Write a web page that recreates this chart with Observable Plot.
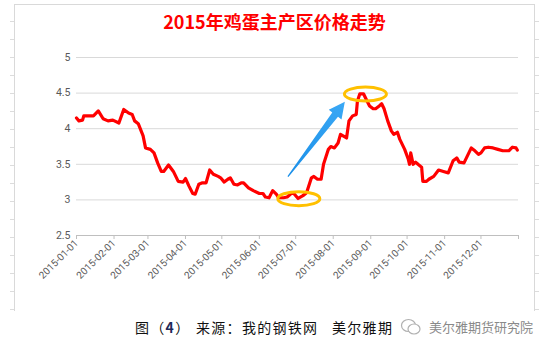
<!DOCTYPE html>
<html><head><meta charset="utf-8">
<script src="https://cdn.jsdelivr.net/npm/d3@7"></script>
<script src="https://cdn.jsdelivr.net/npm/@observablehq/plot@0.6"></script>
<style>
body{margin:0;background:#fff;}
#wrap{position:relative;width:549px;height:354px;overflow:hidden;font-family:"Noto Sans CJK SC",sans-serif;background:#fff;}
#frame{position:absolute;left:14px;top:4px;width:519px;height:306px;border:1px solid #d9d9d9;border-bottom:none;}
.ticksL{position:absolute;left:10px;top:4px;width:4px;height:306px;background:repeating-linear-gradient(to bottom,transparent 0 17px,#dcdcdc 17px 18px);}
.ticksR{position:absolute;left:535px;top:4px;width:4px;height:306px;background:repeating-linear-gradient(to bottom,transparent 0 17px,#dcdcdc 17px 18px);}
#title{position:absolute;left:14px;width:521px;top:9px;text-align:center;color:#ff0000;font-weight:bold;font-size:18px;line-height:24px;white-space:nowrap;}
#chart{position:absolute;left:0;top:40px;}
.cap{position:absolute;top:317px;font-size:14px;line-height:20px;color:#111;white-space:nowrap;letter-spacing:1.3px;}
#wm{position:absolute;left:400px;top:318px;font-size:13px;line-height:18px;color:#8a8a8a;white-space:nowrap;display:flex;align-items:center;}
#wm svg{margin-right:7px;}
</style>
</head><body>
<div id="wrap">
  <div id="frame"></div>
  <div class="ticksL"></div>
  <div class="ticksR"></div>
  <div id="title">2015年鸡蛋主产区价格走势</div>
  <div id="chart"></div>
  <div class="cap" style="left:135px">图（<b style="color:#1f2a5a">4</b>）</div>
  <div class="cap" style="left:196px">来源：我的钢铁网</div>
  <div class="cap" style="left:332px">美尔雅期</div>
  <div id="wm"><svg width="22" height="18" viewBox="0 0 22 18"><ellipse cx="8.5" cy="7.5" rx="7" ry="6" fill="#fff" stroke="#b0b0b0" stroke-width="1.2"/><ellipse cx="14" cy="11" rx="6" ry="5" fill="#fff" stroke="#b0b0b0" stroke-width="1.2"/></svg>美尔雅期货研究院</div>
</div>
<script>
const dates = ["2015-01-01","2015-01-03","2015-01-06","2015-01-07","2015-01-15","2015-01-19","2015-01-23","2015-01-27","2015-01-31",
"2015-02-05","2015-02-09","2015-02-13","2015-02-16","2015-02-18","2015-02-21","2015-02-25","2015-02-27",
"2015-03-03","2015-03-06","2015-03-09","2015-03-12","2015-03-14","2015-03-18","2015-03-22","2015-03-26","2015-03-30",
"2015-04-01","2015-04-04","2015-04-07","2015-04-09","2015-04-12","2015-04-15","2015-04-18","2015-04-21","2015-04-24","2015-04-28","2015-04-30",
"2015-05-03","2015-05-06","2015-05-08","2015-05-11","2015-05-14","2015-05-17","2015-05-19","2015-05-23","2015-05-27",
"2015-06-01","2015-06-04","2015-06-06","2015-06-09","2015-06-12","2015-06-15","2015-06-17","2015-06-21","2015-06-24","2015-06-28","2015-06-30",
"2015-07-03","2015-07-07","2015-07-10","2015-07-14","2015-07-16","2015-07-19","2015-07-22","2015-07-24","2015-07-28","2015-07-30",
"2015-08-02","2015-08-05","2015-08-07","2015-08-12","2015-08-14","2015-08-17","2015-08-20","2015-08-21","2015-08-23","2015-08-26","2015-08-28","2015-08-31",
"2015-09-03","2015-09-05","2015-09-08","2015-09-10","2015-09-12","2015-09-15","2015-09-18","2015-09-20","2015-09-23","2015-09-25","2015-09-29",
"2015-10-02","2015-10-03","2015-10-04","2015-10-06","2015-10-08","2015-10-10","2015-10-13","2015-10-14","2015-10-17","2015-10-19","2015-10-23","2015-10-27","2015-10-31",
"2015-11-04","2015-11-08","2015-11-11","2015-11-13","2015-11-17","2015-11-21","2015-11-23","2015-11-26","2015-11-29",
"2015-12-01","2015-12-04","2015-12-07","2015-12-11","2015-12-15","2015-12-19","2015-12-24","2015-12-27","2015-12-30","2015-12-31"];
const prices = [4.15,4.11,4.12,4.18,4.18,4.25,4.14,4.11,4.12,
4.08,4.27,4.22,4.20,4.11,4.07,3.90,3.73,
3.71,3.66,3.52,3.40,3.40,3.49,3.40,3.26,3.25,
3.30,3.19,3.09,3.08,3.22,3.24,3.24,3.42,3.36,3.33,3.31,
3.25,3.29,3.31,3.22,3.21,3.24,3.24,3.17,3.13,
3.09,3.09,3.04,3.03,3.13,3.08,3.03,3.03,3.04,3.10,3.08,
3.02,3.06,3.10,3.31,3.33,3.29,3.29,3.50,3.71,3.75,
3.73,3.80,3.92,3.87,4.11,4.18,4.20,4.39,4.49,4.49,4.42,4.32,
4.28,4.28,4.32,4.35,4.28,4.11,3.97,3.92,3.95,3.85,3.71,
3.57,3.50,3.66,3.50,3.53,3.50,3.46,3.26,3.26,3.29,3.33,3.42,3.40,
3.38,3.55,3.59,3.53,3.52,3.66,3.73,3.69,3.64,
3.66,3.73,3.74,3.73,3.71,3.69,3.69,3.74,3.73,3.70];
const monthTicks = ["2015-01-01","2015-02-01","2015-03-01","2015-04-01","2015-05-01","2015-06-01","2015-07-01","2015-08-01","2015-09-01","2015-10-01","2015-11-01","2015-12-01","2016-01-01"];
const yTicks = [2.5,3,3.5,4,4.5,5];
// annotation anchors (data space)
const troughMark = {date:"2015-07-04", value:3.01};
const peakMark = {date:"2015-08-28", value:4.48};
const arrowFrom = {date:"2015-06-25", value:3.32};
const arrowTo = {date:"2015-08-11", value:4.37};

const parse = d3.utcParse("%Y-%m-%d");
const data = dates.map((d,i)=>({date:parse(d), price:prices[i]}));
const xt = monthTicks.map(parse);
const fmt = d3.utcFormat("%Y-%m-%d");

const plot = Plot.plot({
  width:549, height:260,
  marginLeft:76, marginRight:31, marginTop:17, marginBottom:65,
  style:{fontFamily:"Roboto, sans-serif", fontSize:"10.5px", color:"#595959", background:"transparent"},
  x:{type:"utc", domain:[parse("2015-01-01"), parse("2016-01-01")]},
  y:{domain:[2.5,5]},
  marks:[
    Plot.gridY(yTicks.filter(d=>d>2.5), {stroke:"#d9d9d9", strokeOpacity:1, strokeWidth:1}),
    Plot.ruleY([2.5], {stroke:"#bfbfbf", strokeWidth:1}),
    Plot.axisY({ticks:yTicks, tickSize:0, tickPadding:6, tickFormat:d=>String(d), label:null, fill:"#595959"}),
    Plot.axisX({ticks:xt, tickSize:4, tickPadding:2, stroke:"#bfbfbf", tickRotate:-45,
      tickFormat:d=> d.getUTCFullYear()===2016 ? "" : fmt(d), label:null, fill:"#595959", fontSize:10}),
    Plot.line(data, {x:"date", y:"price", stroke:"#ff0000", strokeWidth:3.2, strokeLinejoin:"round", strokeLinecap:"round"})
  ]
});
document.getElementById("chart").appendChild(plot);

// annotations positioned through the plot's own scales
const sx = plot.scale("x"), sy = plot.scale("y");
const ns = "http://www.w3.org/2000/svg";
const svg = plot.tagName.toLowerCase()==="svg" ? plot : plot.querySelector("svg");
function px(p){ return [sx.apply(parse(p.date)), sy.apply(p.value)]; }
function ellipse(p){
  const [cx,cy] = px(p);
  const e = document.createElementNS(ns,"ellipse");
  e.setAttribute("cx",cx); e.setAttribute("cy",cy);
  e.setAttribute("rx",21); e.setAttribute("ry",7);
  e.setAttribute("fill","none"); e.setAttribute("stroke","#ffc000"); e.setAttribute("stroke-width",3);
  svg.appendChild(e);
}
ellipse(troughMark); ellipse(peakMark);
(function(){
  const [x0,y0] = px(arrowFrom), [x1,y1] = px(arrowTo);
  const L = Math.hypot(x1-x0,y1-y0), ux=(x1-x0)/L, uy=(y1-y0)/L, nx=-uy, ny=ux;
  const head=16, hw=8, w0=0.6, w1=3.6;
  const bx = x1-ux*head, by = y1-uy*head;
  const pts = [
    [x0+nx*w0, y0+ny*w0],[bx+nx*w1, by+ny*w1],[bx+nx*hw, by+ny*hw],[x1,y1],
    [bx-nx*hw, by-ny*hw],[bx-nx*w1, by-ny*w1],[x0-nx*w0, y0-ny*w0]
  ];
  const defs = document.createElementNS(ns,"defs");
  defs.innerHTML = '<linearGradient id="ag" gradientUnits="userSpaceOnUse" x1="'+x0+'" y1="'+y0+'" x2="'+x1+'" y2="'+y1+'"><stop offset="0" stop-color="#1a8fe8"/><stop offset="1" stop-color="#3aa8f5"/></linearGradient>';
  svg.appendChild(defs);
  const poly = document.createElementNS(ns,"polygon");
  poly.setAttribute("points", pts.map(p=>p.join(",")).join(" "));
  poly.setAttribute("fill","url(#ag)");
  svg.appendChild(poly);
})();
</script>
</body></html>
